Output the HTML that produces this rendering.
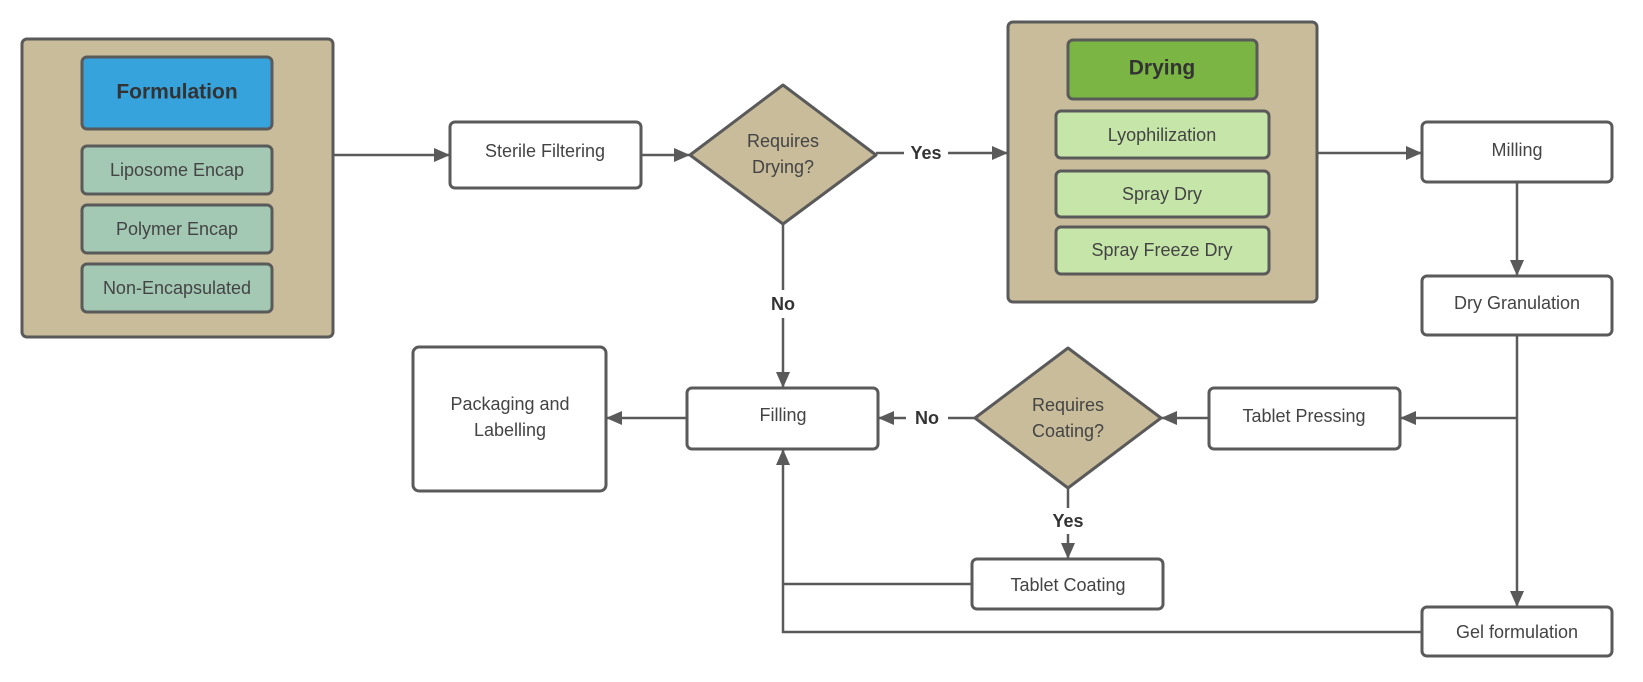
<!DOCTYPE html>
<html><head><meta charset="utf-8"><style>
html,body{margin:0;padding:0;background:#fff;}
svg{display:block;}
text{font-family:"Liberation Sans",sans-serif;fill:#444;font-size:18px;text-anchor:middle;dominant-baseline:central;}
.b{font-weight:bold;fill:#333;}
</style></head><body>
<svg width="1643" height="682" viewBox="0 0 1643 682" xmlns="http://www.w3.org/2000/svg">
<defs>
<marker id="a" markerWidth="16" markerHeight="14" refX="15" refY="7" orient="auto" markerUnits="userSpaceOnUse">
<path d="M0,0 L16,7 L0,14 z" fill="#5a5a5a"/></marker>
</defs>
<g stroke="#5a5a5a" stroke-width="3">
<rect x="22" y="39" width="311" height="298" rx="5" fill="#c8bc9b"/>
<rect x="82" y="57" width="190" height="72" rx="5" fill="#36a3dd"/>
<rect x="82" y="146" width="190" height="48" rx="5" fill="#a3c9b5"/>
<rect x="82" y="205" width="190" height="48" rx="5" fill="#a3c9b5"/>
<rect x="82" y="264" width="190" height="48" rx="5" fill="#a3c9b5"/>
<rect x="1008" y="22" width="309" height="280" rx="5" fill="#c8bc9b"/>
<rect x="1068" y="40" width="189" height="59" rx="5" fill="#7bb645"/>
<rect x="1056" y="111" width="213" height="47" rx="5" fill="#c5e6a8"/>
<rect x="1056" y="171" width="213" height="46" rx="5" fill="#c5e6a8"/>
<rect x="1056" y="227" width="213" height="47" rx="5" fill="#c5e6a8"/>
<rect x="450" y="122" width="191" height="66" rx="5" fill="#fff"/>
<rect x="1422" y="122" width="190" height="60" rx="5" fill="#fff"/>
<rect x="1422" y="276" width="190" height="59" rx="5" fill="#fff"/>
<rect x="413" y="347" width="193" height="144" rx="6" fill="#fff"/>
<rect x="687" y="388" width="191" height="61" rx="5" fill="#fff"/>
<rect x="1209" y="388" width="191" height="61" rx="5" fill="#fff"/>
<rect x="972" y="559" width="191" height="50" rx="5" fill="#fff"/>
<rect x="1422" y="607" width="190" height="49" rx="5" fill="#fff"/>
<polygon points="783,85 876,155 783,224 690,155" fill="#c8bc9b" stroke-linejoin="round"/>
<polygon points="1068,348 1161,418 1068,488 975,418" fill="#c8bc9b" stroke-linejoin="round"/>
</g>
<g stroke="#5a5a5a" stroke-width="2.5" fill="none">
<line x1="333" y1="155" x2="449" y2="155" marker-end="url(#a)"/>
<line x1="641" y1="155" x2="689" y2="155" marker-end="url(#a)"/>
<line x1="876" y1="153" x2="904" y2="153"/>
<line x1="948" y1="153" x2="1007" y2="153" marker-end="url(#a)"/>
<line x1="1317" y1="153" x2="1421" y2="153" marker-end="url(#a)"/>
<line x1="1517" y1="182" x2="1517" y2="275" marker-end="url(#a)"/>
<line x1="1517" y1="335" x2="1517" y2="606" marker-end="url(#a)"/>
<path d="M1517,418 L1401,418" marker-end="url(#a)"/>
<line x1="1209" y1="418" x2="1162" y2="418" marker-end="url(#a)"/>
<line x1="975" y1="418" x2="948" y2="418"/>
<line x1="906" y1="418" x2="879" y2="418" marker-end="url(#a)"/>
<line x1="687" y1="418" x2="607" y2="418" marker-end="url(#a)"/>
<line x1="783" y1="224" x2="783" y2="290"/>
<line x1="783" y1="318" x2="783" y2="387" marker-end="url(#a)"/>
<line x1="1068" y1="488" x2="1068" y2="508"/>
<line x1="1068" y1="534" x2="1068" y2="558" marker-end="url(#a)"/>
<path d="M972,584 L783,584"/>
<path d="M1422,632 L783,632 L783,450" marker-end="url(#a)"/>
</g>
<text x="177" y="92" class="b" style="font-size:21px">Formulation</text>
<text x="177" y="170">Liposome Encap</text>
<text x="177" y="229">Polymer Encap</text>
<text x="177" y="288">Non-Encapsulated</text>
<text x="545" y="151">Sterile Filtering</text>
<text x="783" y="141">Requires</text>
<text x="783" y="167">Drying?</text>
<text x="926" y="153" class="b">Yes</text>
<text x="783" y="304" class="b">No</text>
<text x="1162" y="68" class="b" style="font-size:21px">Drying</text>
<text x="1162" y="135">Lyophilization</text>
<text x="1162" y="194">Spray Dry</text>
<text x="1162" y="250">Spray Freeze Dry</text>
<text x="1517" y="150">Milling</text>
<text x="1517" y="303">Dry Granulation</text>
<text x="510" y="404">Packaging and</text>
<text x="510" y="430">Labelling</text>
<text x="783" y="415">Filling</text>
<text x="1068" y="405">Requires</text>
<text x="1068" y="431">Coating?</text>
<text x="927" y="418" class="b">No</text>
<text x="1304" y="416">Tablet Pressing</text>
<text x="1068" y="521" class="b">Yes</text>
<text x="1068" y="585">Tablet Coating</text>
<text x="1517" y="632">Gel formulation</text>
</svg>
</body></html>
